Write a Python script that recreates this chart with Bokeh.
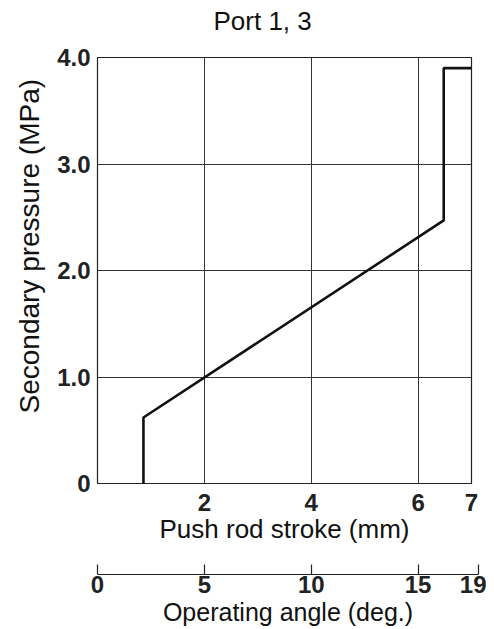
from bokeh.plotting import figure
from bokeh.models import Range1d, FixedTicker, Title
from bokeh.layouts import column
from bokeh.embed import file_html
from bokeh.resources import INLINE

# ---- data ----
stroke_mm = [0.86, 0.86, 6.48, 6.48, 7.0]
pressure_mpa = [0.0, 0.62, 2.47, 3.9, 3.9]

stroke_ticks = [2, 4, 6, 7]
stroke_grid = [2, 4, 6]
pressure_ticks = [0, 1, 2, 3, 4]
pressure_labels = ["0", "1.0", "2.0", "3.0", "4.0"]
pressure_grid = [1, 2, 3]

# operating-angle scale: tick positions on the stroke scale and their labels
angle_tick_pos = [0, 2, 4, 6, 7.13]
angle_labels = ["0", "5", "10", "15", "19"]

TITLE = "Port 1, 3"
X_LABEL = "Push rod stroke (mm)"
Y_LABEL = "Secondary pressure (MPa)"
X2_LABEL = "Operating angle (deg.)"

FONT = "Liberation Sans"
TICK_SIZE = "24px"
XLABEL_SIZE = "26px"
X2LABEL_SIZE = "25px"
YLABEL_SIZE = "28px"
FW, FH = 374, 426


def bare(fig):
    fig.outline_line_color = None
    fig.xgrid.visible = False
    fig.ygrid.visible = False
    fig.background_fill_color = "white"
    fig.border_fill_color = "white"


# ---- title strip ----
t = figure(frame_width=FW, frame_height=1,
           x_range=Range1d(0, 7), y_range=Range1d(0, 1),
           min_border_left=97, min_border_top=0, min_border_right=15,
           min_border_bottom=0,
           output_backend="svg", toolbar_location=None,
           x_axis_location=None, y_axis_location=None, title=TITLE)
bare(t)
t.title.align = "left"
t.title.offset = 116
t.title.vertical_align = "top"
t.title.standoff = 10
t.title.text_font = FONT
t.title.text_font_size = "26px"
t.title.text_font_style = "normal"
t.title.text_color = "#111111"

# ---- main chart ----
p = figure(frame_width=FW, frame_height=FH,
           x_range=Range1d(0, 7), y_range=Range1d(0, 4),
           min_border_left=97, min_border_top=14, min_border_right=15,
           min_border_bottom=79,
           output_backend="svg", toolbar_location=None)

p.line(stroke_mm, pressure_mpa, line_color="#111111", line_width=2.6)

p.outline_line_color = "#222222"
p.outline_line_width = 1.2
p.background_fill_color = "white"
p.border_fill_color = "white"

p.xgrid.ticker = FixedTicker(ticks=stroke_grid)
p.ygrid.ticker = FixedTicker(ticks=pressure_grid)
for g in (p.xgrid, p.ygrid):
    g.grid_line_color = "#333333"
    g.grid_line_width = 1
    g.grid_line_alpha = 1.0

xa = p.xaxis[0]
xa.ticker = FixedTicker(ticks=stroke_ticks)
xa.axis_label = X_LABEL
ya = p.yaxis[0]
ya.ticker = FixedTicker(ticks=pressure_ticks)
ya.major_label_overrides = {t_: s for t_, s in zip(pressure_ticks, pressure_labels)}

for ax in (xa, ya):
    ax.axis_line_color = None
    ax.major_tick_line_color = None
    ax.minor_tick_line_color = None
    ax.major_tick_in = 0
    ax.major_tick_out = 0
    ax.major_label_text_font = FONT
    ax.major_label_text_font_size = TICK_SIZE
    ax.major_label_text_font_style = "bold"
    ax.major_label_text_color = "#222222"

xa.axis_label_text_font = FONT
xa.axis_label_text_font_style = "normal"
xa.axis_label_text_color = "#111111"
xa.axis_label_text_font_size = XLABEL_SIZE
xa.major_label_standoff = 10
xa.axis_label_standoff = 0
ya.major_label_standoff = 7

# y label as a side title (allows shifting it along the axis like the reference)
ytitle = Title(text=Y_LABEL, align="left", offset=70, vertical_align="top",
               standoff=16, text_font=FONT, text_font_size=YLABEL_SIZE,
               text_font_style="normal", text_color="#111111")
p.add_layout(ytitle, "left")

# ---- secondary scale: operating angle ----
q = figure(frame_width=381, frame_height=12,
           x_range=Range1d(0, 7.13), y_range=Range1d(0, 1),
           min_border_left=97, min_border_top=0, min_border_right=8,
           min_border_bottom=0,
           output_backend="svg", toolbar_location=None,
           y_axis_location=None)
bare(q)

qa = q.xaxis[0]
qa.ticker = FixedTicker(ticks=angle_tick_pos)
qa.major_label_overrides = {t_: s for t_, s in zip(angle_tick_pos, angle_labels)}
qa.axis_label = X2_LABEL
qa.axis_line_color = "#222222"
qa.axis_line_width = 1.2
qa.major_tick_line_color = "#222222"
qa.major_tick_line_width = 1.2
qa.major_tick_in = 10
qa.major_tick_out = 0
qa.minor_tick_line_color = None
qa.major_label_standoff = 1
qa.axis_label_standoff = 2
qa.major_label_text_font = FONT
qa.major_label_text_font_size = TICK_SIZE
qa.major_label_text_font_style = "bold"
qa.major_label_text_color = "#222222"
qa.axis_label_text_font = FONT
qa.axis_label_text_font_size = X2LABEL_SIZE
qa.axis_label_text_font_style = "normal"
qa.axis_label_text_color = "#111111"

layout = column(t, p, q, spacing=0)
open("out.html", "w").write(file_html(layout, INLINE))
